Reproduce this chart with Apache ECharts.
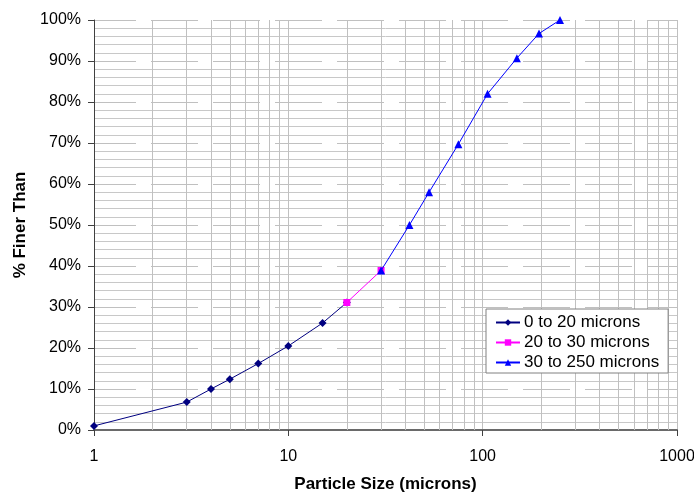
<!DOCTYPE html>
<html><head><meta charset="utf-8">
<script src="https://cdn.jsdelivr.net/npm/echarts@6/dist/echarts.min.js"></script>
<style>html,body{margin:0;padding:0;background:#fff}#c{width:694px;height:493px}</style>
</head><body><div id="c"></div>
<script>
const seriesNames = ['0 to 20 microns', '20 to 30 microns', '30 to 250 microns'];
const sizes1 = [1, 3, 4, 5, 7, 10, 15, 20];
const finer1 = [1.0, 6.8, 10.0, 12.4, 16.2, 20.5, 26.1, 31.1];
const sizes2 = [20, 30];
const finer2 = [31.1, 38.9];
const sizes3 = [30, 42, 53, 75, 106, 150, 195, 250];
const finer3 = [38.9, 50.0, 58.0, 69.7, 82.0, 90.7, 96.7, 100];
const minorX = [2,3,4,5,6,7,8,9,20,30,40,50,60,70,80,90,200,300,400,500,600,700,800,900];
const xTitle = 'Particle Size (microns)';
const yTitle = '% Finer Than';

const FONT = 'Liberation Sans, Arial, sans-serif';
const pair = (xs, ys) => xs.map((x, i) => [x, ys[i]]);
const chart = echarts.init(document.getElementById('c'), null, {renderer: 'canvas'});
chart.setOption({
  backgroundColor: '#ffffff',
  animation: false,
  textStyle: {fontFamily: FONT, color: '#000'},
  grid: {left: 94, right: 17, top: 20, bottom: 63, containLabel: false, outerBoundsMode: 'none'},
  legend: {
    orient: 'vertical', left: 486, top: 309,
    data: seriesNames,
    backgroundColor: '#ffffff', borderColor: '#808080', borderWidth: 1,
    padding: [5, 9, 2, 9], itemGap: 3, itemWidth: 24, itemHeight: 8,
    textStyle: {fontFamily: FONT, fontSize: 17, color: '#000', padding: [0,0,0,-1]}
  },
  xAxis: {
    type: 'log', logBase: 10, min: 1, max: 1000,
    name: xTitle, nameLocation: 'middle', nameGap: 46,
    nameTextStyle: {fontFamily: FONT, fontSize: 17, fontWeight: 'bold', color: '#000'},
    axisLine: {show: true, onZero: false, lineStyle: {color: '#6a6a6a', width: 2}},
    axisTick: {show: true, inside: false, length: 6, lineStyle: {color: '#404040'}},
    axisLabel: {fontFamily: FONT, fontSize: 16, color: '#000', margin: 19, formatter: v => String(v)},
    splitLine: {show: true, lineStyle: {color: '#c0c0c0', width: 1}},
    minorTick: {show: false}, minorSplitLine: {show: false}
  },
  yAxis: {
    type: 'value', min: 0, max: 100, interval: 10,
    name: yTitle, nameLocation: 'middle', nameGap: 64, nameRotate: 90,
    nameTextStyle: {fontFamily: FONT, fontSize: 17, fontWeight: 'bold', color: '#000'},
    axisLine: {show: true, lineStyle: {color: '#404040', width: 1}},
    axisTick: {show: true, inside: false, length: 6, lineStyle: {color: '#404040'}},
    axisLabel: {fontFamily: FONT, fontSize: 16, color: '#000', margin: 13, formatter: '{value}%'},
    splitLine: {show: true, lineStyle: {color: '#c0c0c0', width: 1, type: [47, 15], dashOffset: 5}},
    minorTick: {show: false, splitNumber: 5},
    minorSplitLine: {show: true, lineStyle: {color: '#c8c8c8', width: 1}}
  },
  series: [
    {
      name: seriesNames[0], type: 'line', data: pair(sizes1, finer1),
      symbol: 'diamond', symbolSize: 8, z: 3,
      lineStyle: {color: '#000080', width: 1}, itemStyle: {color: '#000080'},
      markLine: {
        silent: true, symbol: ['none', 'none'], z: 1, animation: false,
        label: {show: false},
        lineStyle: {color: '#c0c0c0', width: 1, type: 'solid'},
        emphasis: {disabled: true},
        data: minorX.map(v => ({xAxis: v}))
      }
    },
    {
      name: seriesNames[1], type: 'line', data: pair(sizes2, finer2),
      symbol: 'rect', symbolSize: 7, z: 4,
      lineStyle: {color: '#FF00FF', width: 1}, itemStyle: {color: '#FF00FF'}
    },
    {
      name: seriesNames[2], type: 'line', data: pair(sizes3, finer3),
      symbol: 'triangle', symbolSize: 8, z: 5,
      lineStyle: {color: '#0000FF', width: 1}, itemStyle: {color: '#0000FF'}
    }
  ]
});
</script></body></html>
